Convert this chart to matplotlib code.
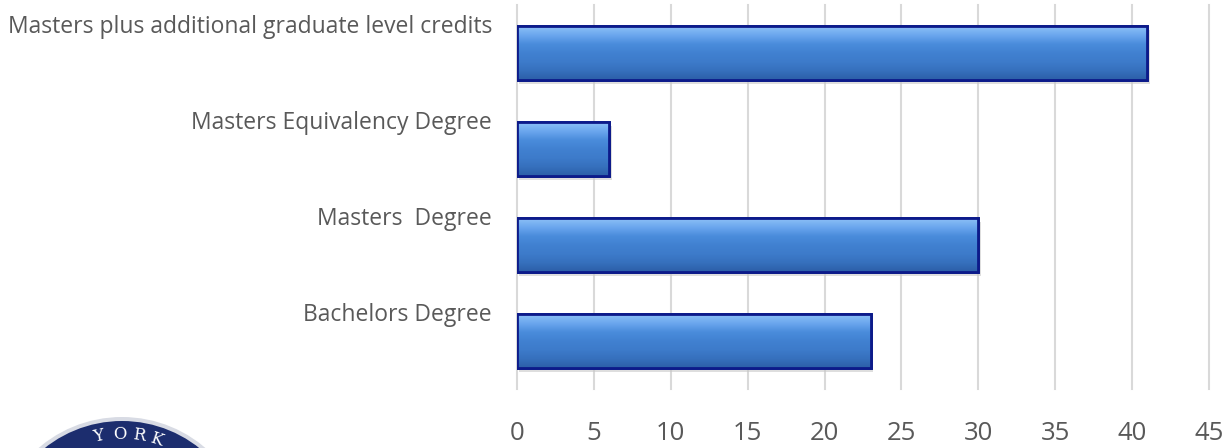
import matplotlib.pyplot as plt
import numpy as np
from matplotlib.colors import LinearSegmentedColormap
from matplotlib.patches import Circle

CATEGORIES = ["Bachelors Degree", "Masters  Degree",
              "Masters Equivalency Degree",
              "Masters plus additional graduate level credits"]
VALUES = [23, 30, 6, 41]
XTICKS = [0, 5, 10, 15, 20, 25, 30, 35, 40, 45]

plt.rcParams["font.family"] = ["Open Sans", "DejaVu Sans"]

W, H = 1226, 448
fig = plt.figure(figsize=(W / 100, H / 100), dpi=100)
ax = fig.add_axes([517 / W, 1 - 389 / H, (1209 - 517) / W, (389 - 5) / H])

ypos = np.arange(len(CATEGORIES))
bar_h = 0.56
grad = LinearSegmentedColormap.from_list(
    "bevel", ["#2c5fa8", "#3670bd", "#3d7bca", "#4181d1", "#4a8cdb",
              "#6aa6ee", "#8cc0f6"])

# shadow
ax.barh(ypos - 0.04, VALUES, height=bar_h, left=0.15,
        color="#c8c8c8", alpha=0.6, zorder=1)
bars = ax.barh(ypos, VALUES, height=bar_h, color="#3f7fd0",
               edgecolor="#0c1a8a", linewidth=2, zorder=3)
g = np.linspace(0, 1, 64).reshape(-1, 1)
for b in bars:
    x0, y0 = b.get_x(), b.get_y()
    im = ax.imshow(g, cmap=grad, aspect="auto", origin="lower",
                   extent=[x0, x0 + b.get_width(), y0, y0 + b.get_height()],
                   zorder=3.5)
    im.set_clip_path(b)
    ax.add_patch(plt.Rectangle((x0, y0), b.get_width(), b.get_height(),
                               fill=False, edgecolor="#0c1a8a",
                               linewidth=2, zorder=4))

ax.set_xlim(0, 45)
ax.set_ylim(-0.5, len(CATEGORIES) - 0.5)
ax.set_xticks(XTICKS)
ax.tick_params(axis="x", length=0, pad=23, labelsize=18.5, labelcolor="#595959")
ax.set_yticks([])
ax.grid(axis="x", color="#d9d9d9", linewidth=1.5, zorder=0, clip_on=False)
ax.set_axisbelow(True)
for s in ax.spines.values():
    s.set_visible(False)

trans = ax.get_yaxis_transform()
for y, lab in zip(ypos, CATEGORIES):
    ax.text(-0.036, y + 0.27, lab, transform=trans, ha="right", va="center",
            fontsize=16.5, color="#595959")

# partial logo in the lower left corner
lax = fig.add_axes([0, 0, 300 / W, 68 / H])
lax.set_xlim(0, 300)
lax.set_ylim(448, 380)
lax.axis("off")
lax.add_patch(Circle((122, 545), 128, facecolor="#d8dbe4", edgecolor="none"))
lax.add_patch(Circle((122, 545), 124, facecolor="#1c2d6e", edgecolor="none"))
for ch, ang in zip("YORK", [-12, -1, 8.5, 18]):
    a = np.deg2rad(ang)
    cx, cy = 122 + 111 * np.sin(a), 545 - 111 * np.cos(a)
    lax.text(cx, cy, ch, ha="center", va="center", color="white",
             fontsize=12, family="DejaVu Serif", rotation=-ang)

fig.savefig("out.png", dpi=100, facecolor="white")
